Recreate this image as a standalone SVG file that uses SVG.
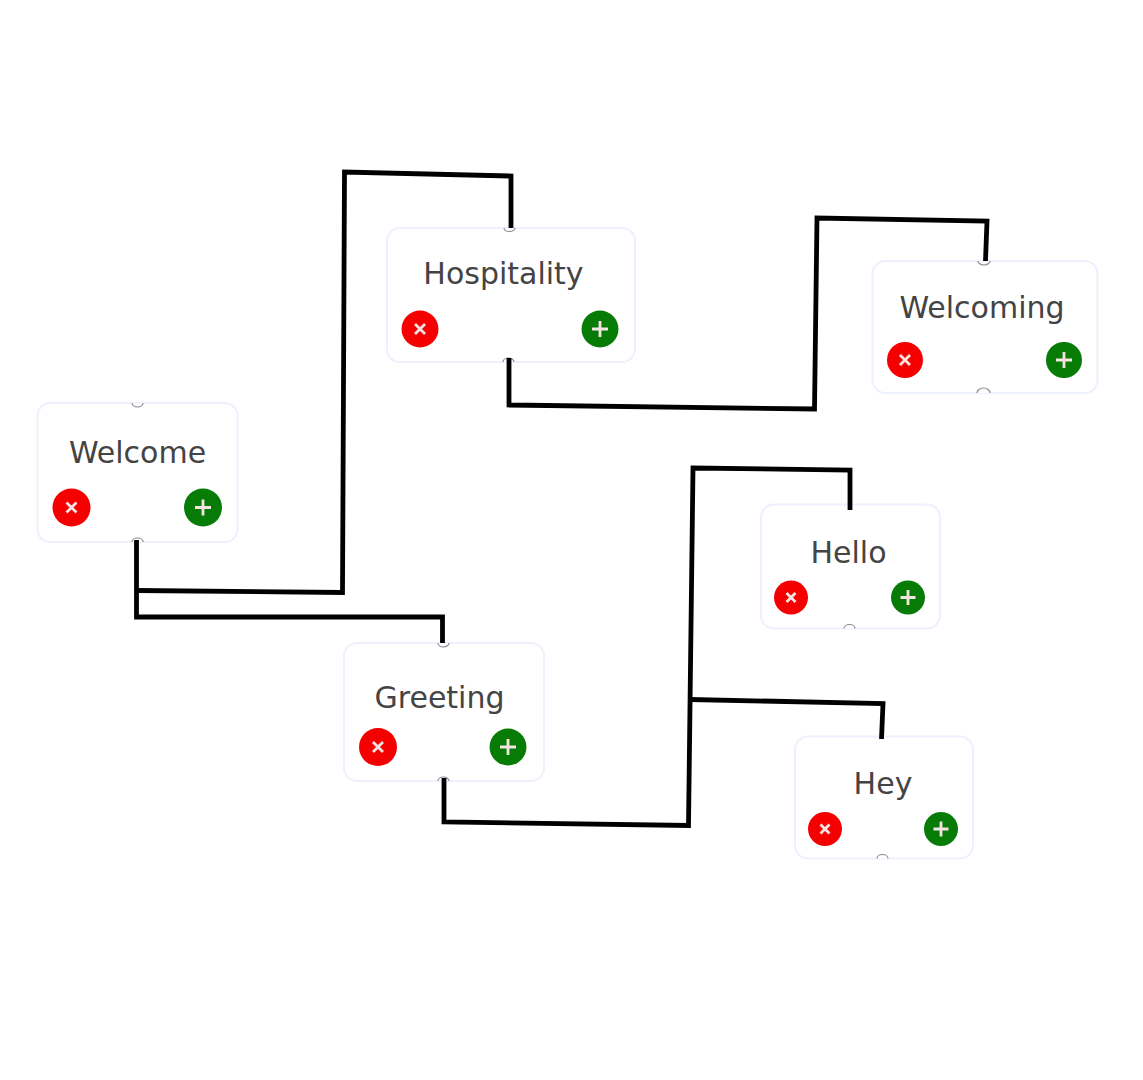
<svg xmlns="http://www.w3.org/2000/svg" width="1143" height="1080" viewBox="0 0 1143 1080">
<style>
.card{fill:#fff;stroke:#edf1fe;stroke-width:2}
.lbl{font-family:"DejaVu Sans",sans-serif;font-size:30px;fill:#444;text-anchor:middle}
.no{fill:#f40000}
.yes{fill:#067c06}
.gl{stroke:#f6e4e4;stroke-width:2.8;fill:none}
.port{fill:#fff;stroke:#8a8a8a;stroke-width:1.2}
.wire{fill:none;stroke:#000;stroke-width:4.8;stroke-linejoin:miter}
</style>
<rect width="1143" height="1080" fill="#fff"/>
<g id="n-welcome">
<rect class="card" x="37.500" y="403" width="200" height="139" rx="13"/>
<path class="port" d="M132 403a5.500 4 0 0 0 11 0"/>
<path class="port" d="M132 542a5.500 4 0 0 1 11 0"/>
<text class="lbl" x="137.500" y="463">Welcome</text>
<circle class="no" cx="71.500" cy="507.500" r="19"/><path class="gl" d="M66.500 502.500l10 10m0-10l-10 10"/>
<circle class="yes" cx="203" cy="507.500" r="19"/><path class="gl" d="M195 507.500h16m-8-8v16"/>
</g>
<g id="n-hospitality">
<rect class="card" x="387" y="228" width="248" height="134" rx="13"/>
<path class="port" d="M504 228a5.500 3.500 0 0 0 11 0"/>
<path class="port" d="M503 362a5.500 4 0 0 1 11 0"/>
<text class="lbl" x="503.500" y="284">Hospitality</text>
<circle class="no" cx="420" cy="329" r="18.500"/><path class="gl" d="M415 324l10 10m0-10l-10 10"/>
<circle class="yes" cx="600" cy="329" r="18.500"/><path class="gl" d="M592 329h16m-8-8v16"/>
</g>
<g id="n-welcoming">
<rect class="card" x="872.500" y="261" width="225" height="132" rx="13"/>
<path class="port" d="M978 261a6 4 0 0 0 12 0"/>
<path class="port" d="M977 393a6.500 5 0 0 1 13 0"/>
<text class="lbl" x="982" y="318">Welcoming</text>
<circle class="no" cx="905" cy="360" r="18"/><path class="gl" d="M900 355l10 10m0-10l-10 10"/>
<circle class="yes" cx="1064" cy="360" r="18"/><path class="gl" d="M1056 360h16m-8-8v16"/>
</g>
<g id="n-hello">
<rect class="card" x="761" y="504.500" width="179" height="124" rx="13"/>
<path class="port" d="M844 628.500a5.500 4 0 0 1 11 0"/>
<text class="lbl" x="848.500" y="563">Hello</text>
<circle class="no" cx="791" cy="597.500" r="17"/><path class="gl" d="M786.500 593l9 9m0-9l-9 9"/>
<circle class="yes" cx="908" cy="597.500" r="17"/><path class="gl" d="M900.500 597.500h15m-7.500-7.500v15"/>
</g>
<g id="n-greeting">
<rect class="card" x="344" y="643" width="200" height="138" rx="13"/>
<path class="port" d="M438 643a5.500 4 0 0 0 11 0"/>
<path class="port" d="M438 781a5.500 4 0 0 1 11 0"/>
<text class="lbl" x="439.500" y="708">Greeting</text>
<circle class="no" cx="378" cy="747" r="19"/><path class="gl" d="M373 742l10 10m0-10l-10 10"/>
<circle class="yes" cx="508" cy="747" r="18.500"/><path class="gl" d="M500 747h16m-8-8v16"/>
</g>
<g id="n-hey">
<rect class="card" x="795" y="736.500" width="178" height="122" rx="13"/>
<path class="port" d="M877 858.500a5.500 4 0 0 1 11 0"/>
<text class="lbl" x="883" y="794">Hey</text>
<circle class="no" cx="825" cy="829" r="17"/><path class="gl" d="M820.500 824.500l9 9m0-9l-9 9"/>
<circle class="yes" cx="941" cy="829" r="17"/><path class="gl" d="M933.500 829h15m-7.500-7.500v15"/>
</g>
<g id="connectors">
<path class="wire" d="M136.500 540V617L442.500 617V643"/>
<path class="wire" d="M136.500 590.500L342.500 592.500L344.500 172L511 176V228"/>
<path class="wire" d="M509 358V405L814.500 409L817 218L987 221L985.500 261"/>
<path class="wire" d="M444 778V822L688.500 825.500L693 468L850 470V510"/>
<path class="wire" d="M690 699.500L883 703.500L881.500 739"/>
</g>
</svg>
